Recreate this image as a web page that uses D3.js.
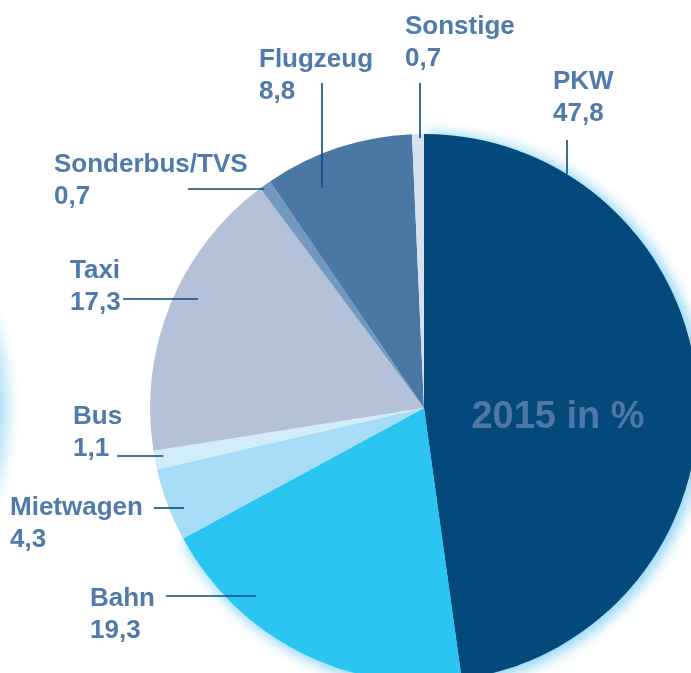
<!DOCTYPE html>
<html lang="de">
<head>
<meta charset="UTF-8">
<title>Verkehrsmittel 2015</title>
<script src="https://d3js.org/d3.v7.min.js"></script>
<style>
  body { margin: 0; background: #fff; }
  text { font-family: "Liberation Sans", Arial, sans-serif; font-weight: 700; }
</style>
</head>
<body>
<div id="chart"></div>
<script>
// Anteile 2015 in %, im Uhrzeigersinn ab 12 Uhr
const categories = ["PKW", "Bahn", "Mietwagen", "Bus", "Taxi", "Sonderbus/TVS", "Flugzeug", "Sonstige"]
const values = [47.8, 19.3, 4.3, 1.1, 17.3, 0.7, 8.8, 0.7]
const colors = ["#03497c", "#2bc5f2", "#a7dcf6", "#d3ecfa", "#b3c2d9", "#7398bf", "#4b77a4", "#d7e0ec"]

const width = 691
const height = 673
const cx = 424, cy = 408, r = 274

// label placement: text anchor + leader line (h = horizontal, v = vertical)
const labelLayout = [
  { x: 553, y: 89,  dir: "v", at: 567, from: 140, depth: 0 },
  { x: 90,  y: 606, dir: "h", at: 596, from: 166, depth: 22 },
  { x: 10,  y: 515, dir: "h", at: 508, from: 154, depth: 14 },
  { x: 73,  y: 424, dir: "h", at: 456, from: 117, depth: 9 },
  { x: 70,  y: 278, dir: "h", at: 299, from: 123, depth: 23 },
  { x: 54,  y: 172, dir: "h", at: 189, from: 188, depth: 3 },
  { x: 259, y: 67,  dir: "v", at: 322, from: 83,  depth: 31 },
  { x: 405, y: 34,  dir: "v", at: 420, from: 83,  depth: 4 }
]

const fmt = v => d3.format(".1f")(v).replace(".", ",")

const svg = d3.select("#chart").append("svg")
  .attr("width", width)
  .attr("height", height)

const defs = svg.append("defs")
defs.append("filter").attr("id", "glow")
  .attr("x", "-20%").attr("y", "-20%").attr("width", "140%").attr("height", "140%")
  .append("feGaussianBlur").attr("stdDeviation", 6)
defs.append("filter").attr("id", "glowLeft")
  .attr("x", "-20%").attr("y", "-20%").attr("width", "140%").attr("height", "140%")
  .append("feGaussianBlur").attr("stdDeviation", 7)

// neighbouring chart's glow peeking in on the left
svg.append("circle")
  .attr("cx", cx - 690).attr("cy", cy).attr("r", r)
  .attr("fill", "#b0e1f7")
  .attr("filter", "url(#glowLeft)")

const data = categories.map((c, i) => ({ name: c, value: values[i], color: colors[i], lab: labelLayout[i] }))

const pie = d3.pie().sort(null).value(d => d.value)
const arcs = pie(data)
const arc = d3.arc().innerRadius(0).outerRadius(r)

const g = svg.append("g").attr("transform", `translate(${cx},${cy})`)

// soft light-blue glow behind the dark slices
g.append("g")
  .attr("filter", "url(#glow)")
  .selectAll("path")
  .data(arcs.filter(d => d.data.name === "PKW" || d.data.name === "Bahn"))
  .join("path")
    .attr("d", d3.arc().innerRadius(0).outerRadius(r + 4))
    .attr("transform", "translate(3,2)")
    .attr("fill", "#9fdaf5")

g.selectAll("path.slice")
  .data(arcs)
  .join("path")
    .attr("class", "slice")
    .attr("d", arc)
    .attr("fill", d => d.data.color)

// leader lines: inner end sits 'depth' px inside the pie edge
const lines = svg.append("g")
data.forEach(d => {
  const L = d.lab
  const rr = r - L.depth
  let x1, y1, x2, y2
  if (L.dir === "v") {
    const dx = L.at - cx
    x1 = x2 = L.at
    y1 = L.from
    y2 = cy - Math.sqrt(rr * rr - dx * dx)
  } else {
    const dy = L.at - cy
    y1 = y2 = L.at
    x1 = L.from
    x2 = cx - Math.sqrt(rr * rr - dy * dy)
  }
  lines.append("line")
    .attr("x1", x1).attr("y1", y1).attr("x2", x2).attr("y2", y2)
    .attr("stroke", "#0b4a7c")
    .attr("stroke-width", 1.6)
})

const labels = svg.append("g")
  .attr("fill", "#4f7aa9")
  .attr("font-size", 26)
data.forEach(d => {
  const t = labels.append("text").attr("x", d.lab.x).attr("y", d.lab.y)
  t.append("tspan").attr("x", d.lab.x).text(d.name)
  t.append("tspan").attr("x", d.lab.x).attr("dy", 32).text(fmt(d.value))
})

svg.append("text")
  .attr("x", 558).attr("y", 428)
  .attr("text-anchor", "middle")
  .attr("font-size", 38)
  .attr("fill", "#4d78a7")
  .text("2015 in %")
</script>
</body>
</html>
